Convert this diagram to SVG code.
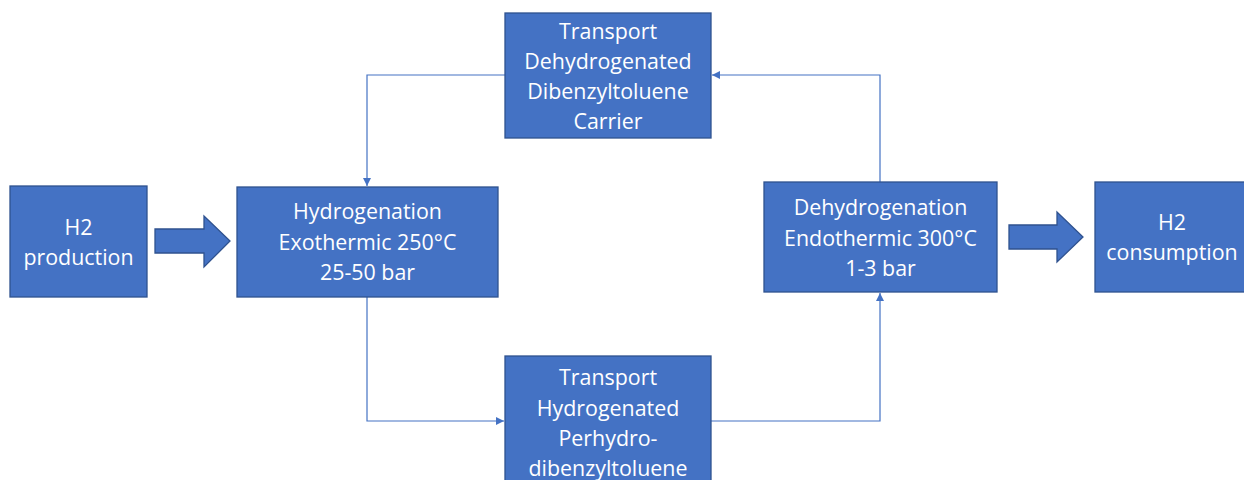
<svg xmlns="http://www.w3.org/2000/svg" width="1244" height="480" viewBox="0 0 1244 480">
<defs>
<style>
.box{fill:#4472C4;stroke:#2F528F;stroke-width:1.3}
.t{fill:#FFFFFF;font-family:"Open Sans","Noto Sans",sans-serif;font-size:21.4px;text-anchor:middle}
.c{fill:none;stroke:#4472C4;stroke-width:1.2}
</style>
<marker id="ah" viewBox="0 0 10 10" refX="10" refY="5" markerWidth="8" markerHeight="8" markerUnits="userSpaceOnUse" orient="auto">
<path d="M0,0 L10,5 L0,10 z" fill="#4472C4"/>
</marker>
</defs>
<rect width="1244" height="480" fill="#FFFFFF"/>
<g id="connectors">
<polyline class="c" points="505,75 367,75 367,186" marker-end="url(#ah)"/>
<polyline class="c" points="880,182 880,75 712,75" marker-end="url(#ah)"/>
<polyline class="c" points="367,297 367,421 504,421" marker-end="url(#ah)"/>
<polyline class="c" points="711,421 880,421 880,293" marker-end="url(#ah)"/>
<polygon class="box" points="155,229 204,229 204,216 230,241 204,267 204,253 155,253"/>
<polygon class="box" points="1009,225 1057,225 1057,212 1083,237 1057,262 1057,249 1009,249"/>
</g>
<g id="h2prod">
<rect class="box" x="10" y="186" width="137" height="111"/>
<text class="t" x="78.5" y="235">H2</text>
<text class="t" x="78.5" y="265">production</text>
</g>
<g id="hydrogenation">
<rect class="box" x="237" y="187" width="261" height="110"/>
<text class="t" x="367.5" y="219">Hydrogenation</text>
<text class="t" x="367.5" y="250">Exothermic 250°C</text>
<text class="t" x="367.5" y="280">25-50 bar</text>
</g>
<g id="transport-dehyd">
<rect class="box" x="505" y="13" width="206" height="125"/>
<text class="t" x="608" y="39">Transport</text>
<text class="t" x="608" y="69">Dehydrogenated</text>
<text class="t" x="608" y="99">Dibenzyltoluene</text>
<text class="t" x="608" y="129">Carrier</text>
</g>
<g id="transport-hyd">
<rect class="box" x="505" y="356" width="206" height="140"/>
<text class="t" x="608" y="385">Transport</text>
<text class="t" x="608" y="416">Hydrogenated</text>
<text class="t" x="608" y="446">Perhydro-</text>
<text class="t" x="608" y="476">dibenzyltoluene</text>
</g>
<g id="dehydrogenation">
<rect class="box" x="764" y="182" width="233" height="110"/>
<text class="t" x="880.5" y="215">Dehydrogenation</text>
<text class="t" x="880.5" y="246">Endothermic 300°C</text>
<text class="t" x="880.5" y="276">1-3 bar</text>
</g>
<g id="h2cons">
<rect class="box" x="1095" y="182" width="155" height="110"/>
<text class="t" x="1172" y="230">H2</text>
<text class="t" x="1172" y="260">consumption</text>
</g>
</svg>
